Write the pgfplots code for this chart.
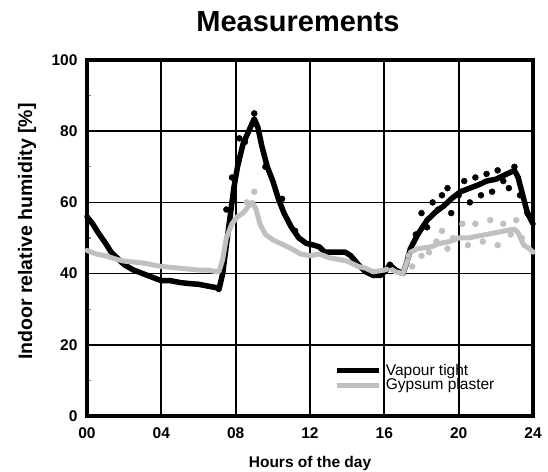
\documentclass[border=0pt]{standalone}
\usepackage{pgfplots}
\pgfplotsset{compat=1.18}
\usepackage{fontspec}
\setmainfont{Liberation Sans}
\definecolor{plaster}{RGB}{192,192,192}
\begin{document}
\begin{tikzpicture}
\useasboundingbox (-87pt,-55pt) rectangle (461pt,416pt);
\begin{axis}[
    at={(0,0)}, anchor=south west,
    scale only axis,
    width=446pt, height=356pt,
    xmin=0, xmax=24, ymin=0, ymax=100,
    clip=false,
    xtick={0,4,8,12,16,20,24},
    xticklabels={00,04,08,12,16,20,24},
    ytick={0,20,40,60,80,100},
    minor ytick={10,30,50,70,90},
    grid=major,
    major grid style={black, line width=1.7pt},
    axis line style={line width=3.5pt},
    major tick length=0pt,
    minor tick length=4pt,
    minor tick style={line width=1.2pt},
    tick align=inside,
    ytick pos=left,
    /pgf/number format/assume math mode=true,
    ticklabel style={font=\fontsize{15.5}{17}\selectfont\bfseries},
    xticklabel style={yshift=-8pt},
    yticklabel style={xshift=-6pt},
    legend style={draw=none, fill=none, at={(0.553,0.148)}, anchor=north west,
        font=\fontsize{15.5}{17}\selectfont, row sep=1pt, column sep=4pt,
        inner sep=0pt, nodes={inner sep=0.5pt}},
    legend cell align=left,
    /pgfplots/legend image code/.code={
        \draw[#1, line cap=butt] (-7pt,0cm) -- (35pt,0cm);},
]
\addplot[black, line width=5.5pt, line join=round, line cap=round] coordinates {
(0,56) (0.3,54) (0.6,51.5) (1,48.5) (1.3,46) (1.6,44.5) (2,42.5) (2.5,41)
(3,40) (3.5,39) (4,38) (4.5,38) (5,37.5) (5.5,37.2) (6,37) (6.5,36.5)
(7,36) (7.1,35.5) (7.3,40) (7.5,48) (7.7,56) (7.9,64) (8.1,70) (8.4,76.5)
(8.7,80) (9.0,83.5) (9.2,81) (9.4,76) (9.7,70) (10,66) (10.3,61) (10.6,57)
(11,53) (11.4,50) (11.8,48.5) (12.2,48) (12.5,47.5) (12.8,46) (13.1,46)
(13.5,46) (13.9,46) (14.2,45) (14.6,42.5) (15,40.5) (15.4,39.5) (15.8,39.5)
(16.1,41) (16.3,42.5) (16.6,41) (17,40) (17.2,43) (17.4,47) (17.8,51)
(18.3,55) (18.8,57.5) (19.2,59) (19.6,61) (20.1,63) (20.6,64) (21.1,65)
(21.5,66) (22,66.5) (22.4,67.5) (22.8,68.5) (23,69) (23.2,67) (23.5,61)
(23.7,57) (24,54)
};
\addlegendentry{Vapour tight}
\addplot[plaster, line width=5pt, line join=round, line cap=round] coordinates {
(0,46.5) (0.5,45.5) (1,45) (1.6,44) (2,43.5) (3,43) (4,42) (5,41.5) (6,41)
(6.5,41) (7,40.5) (7.1,40.5) (7.3,44) (7.5,50) (7.8,54) (8.1,56) (8.4,57)
(8.7,59) (8.9,60) (9.1,58) (9.3,54) (9.6,51) (10,49.5) (10.4,48.5) (11,47)
(11.5,45.5) (12,45) (12.5,45.5) (13,44.5) (13.5,44) (14,43.5) (14.6,42)
(15,41.5) (15.4,40.5) (16,41) (16.3,41.5) (16.6,40.5) (17,40) (17.2,43)
(17.4,46) (17.8,47) (18.5,47.5) (19,48.5) (19.5,49) (20,50) (20.5,50)
(21,50.5) (21.5,51) (22,51.5) (22.5,52) (23,52.5) (23.2,51.5) (23.5,48)
(23.8,47) (24,46)
};
\addlegendentry{Gypsum plaster}
\addplot[only marks, mark=*, mark size=3pt, black, forget plot] coordinates {
(7.5,58) (7.8,67) (8.2,78) (8.5,77) (9.0,85) (9.1,82) (9.6,70) (10.5,61)
(11.2,52) (16.3,42.5) (17.3,45) (17.7,51) (18,57) (18.3,53) (18.6,60)
(18.9,58) (19.1,62) (19.4,64) (19.6,57) (20,62) (20.3,66) (20.6,60)
(20.9,67) (21.2,62) (21.5,68) (21.8,63) (22.1,69) (22.4,66) (22.7,64)
(23.0,70) (23.3,62) (23.7,57)
};
\addplot[only marks, mark=*, mark size=3pt, plaster, forget plot] coordinates {
(8.6,60) (8.8,59.5) (9.0,63) (17.3,45) (17.5,42) (18,45) (18.4,46)
(18.8,49) (19.1,52) (19.4,47) (19.7,50) (20.2,54) (20.5,48) (20.9,54)
(21.3,49) (21.7,55) (22.1,48) (22.4,54) (22.8,51) (23.1,55) (23.4,50)
};
\node[anchor=base, font=\fontsize{29}{32}\selectfont\bfseries]
    at (rel axis cs:0.473,1.0787) {Measurements};
\node[anchor=base, font=\fontsize{15.5}{17}\selectfont\bfseries]
    at (rel axis cs:0.5,-0.1433) {Hours of the day};
\node[rotate=90, anchor=center, font=\fontsize{19.5}{21}\selectfont\bfseries]
    at (rel axis cs:-0.1345,0.518) {Indoor relative humidity [\%]};
\end{axis}
\end{tikzpicture}
\end{document}
